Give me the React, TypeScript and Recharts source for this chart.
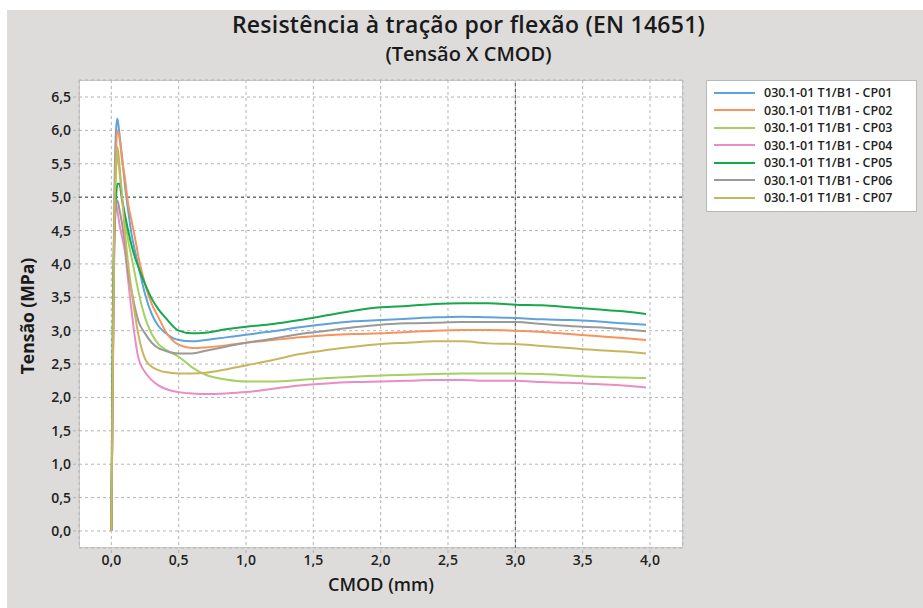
import {
  LineChart,
  Line,
  XAxis,
  YAxis,
  CartesianGrid,
  ReferenceLine,
} from "recharts";

// CMOD (mm) sample positions shared by all specimens
const cmod = [
  0, 0.01, 0.02, 0.035, 0.045, 0.06, 0.08, 0.1, 0.125, 0.15, 0.175, 0.2, 0.25,
  0.3, 0.35, 0.4, 0.5, 0.6, 0.7, 0.85, 1.0, 1.2, 1.4, 1.6, 1.8, 2.0, 2.2, 2.4,
  2.6, 2.8, 3.0, 3.2, 3.4, 3.6, 3.8, 3.97,
];

// Tensão (MPa) per specimen
const cp01 = [
  0, 2.2, 4.6, 6.0, 6.18, 5.95, 5.6, 5.2, 4.8, 4.45, 4.2, 3.98, 3.55, 3.25,
  3.07, 2.97, 2.86, 2.84, 2.86, 2.9, 2.94, 2.99, 3.05, 3.1, 3.14, 3.16, 3.18,
  3.2, 3.21, 3.2, 3.19, 3.17, 3.16, 3.14, 3.11, 3.09,
];
const cp02 = [
  0, 2.0, 4.3, 5.7, 6.0, 5.9, 5.55, 5.3, 4.9, 4.65, 4.4, 4.12, 3.7, 3.4, 3.2,
  3.0, 2.79, 2.74, 2.75, 2.78, 2.82, 2.86, 2.9, 2.93, 2.95, 2.96, 2.98, 3.0,
  3.01, 3.01, 3.0, 2.98, 2.95, 2.92, 2.89, 2.86,
];
const cp03 = [
  0, 2.0, 4.2, 5.4, 5.65, 5.4, 5.0, 4.7, 4.35, 4.1, 3.85, 3.6, 3.2, 2.95, 2.8,
  2.72, 2.61, 2.45, 2.34, 2.27, 2.24, 2.24, 2.26, 2.29, 2.31, 2.33, 2.34, 2.35,
  2.36, 2.36, 2.36, 2.35, 2.33, 2.31, 2.3, 2.29,
];
const cp04 = [
  0, 2.0, 4.0, 4.9, 4.8, 4.6, 4.4, 4.2, 3.75, 3.3, 2.9, 2.6, 2.38, 2.26, 2.18,
  2.13, 2.08, 2.06, 2.05, 2.06, 2.08, 2.13, 2.18, 2.21, 2.23, 2.24, 2.25, 2.26,
  2.26, 2.25, 2.25, 2.23, 2.22, 2.2, 2.18, 2.15,
];
const cp05 = [
  0, 3.0, 4.4, 5.0, 5.2, 5.2, 4.95, 4.75, 4.5, 4.28, 4.1, 3.96, 3.7, 3.48, 3.32,
  3.2, 3.0, 2.96, 2.97, 3.02, 3.06, 3.1, 3.16, 3.23, 3.3, 3.35, 3.37, 3.4, 3.41,
  3.41, 3.39, 3.38, 3.35, 3.32, 3.29, 3.25,
];
const cp06 = [
  0, 2.2, 4.0, 4.9, 4.95, 4.82, 4.6, 4.3, 3.85, 3.6, 3.35, 3.15, 2.96, 2.82,
  2.74, 2.7, 2.66, 2.66, 2.7, 2.76, 2.82, 2.88, 2.95, 3.0, 3.05, 3.09, 3.11,
  3.12, 3.13, 3.13, 3.13, 3.1, 3.07, 3.05, 3.02, 2.99,
];
const cp07 = [
  0, 2.2, 4.3, 5.5, 5.75, 5.5, 5.0, 4.5, 4.0, 3.6, 3.25, 2.95, 2.58, 2.46, 2.41,
  2.38, 2.36, 2.36, 2.37, 2.42, 2.48, 2.56, 2.65, 2.71, 2.76, 2.8, 2.82, 2.84,
  2.84, 2.81, 2.8, 2.77, 2.74, 2.71, 2.69, 2.66,
];

const seriesNames = [
  "030.1-01 T1/B1 - CP01",
  "030.1-01 T1/B1 - CP02",
  "030.1-01 T1/B1 - CP03",
  "030.1-01 T1/B1 - CP04",
  "030.1-01 T1/B1 - CP05",
  "030.1-01 T1/B1 - CP06",
  "030.1-01 T1/B1 - CP07",
];
const seriesValues = [cp01, cp02, cp03, cp04, cp05, cp06, cp07];
const seriesColors = [
  "#5ea3d9",
  "#f7935c",
  "#a3d163",
  "#ea8dc3",
  "#17a84b",
  "#9a9a9a",
  "#c9b55e",
];

const xTicks = [0, 0.5, 1, 1.5, 2, 2.5, 3, 3.5, 4];
const yTicks = [0, 0.5, 1, 1.5, 2, 2.5, 3, 3.5, 4, 4.5, 5, 5.5, 6, 6.5];

const data = cmod.map((x, i) => {
  const row: Record<string, number> = { cmod: x };
  seriesValues.forEach((s, k) => {
    row[`cp${k + 1}`] = s[i];
  });
  return row;
});

const font = '"Open Sans", "Noto Sans", sans-serif';
const fmt = (v: number) => v.toFixed(1).replace(".", ",");

function LegendBox() {
  return (
    <div
      style={{
        position: "absolute",
        left: 706,
        top: 80,
        width: 211,
        height: 132,
        background: "#fff",
        border: "1px solid #b8b8b8",
        boxSizing: "border-box",
        paddingTop: 3,
        fontFamily: font,
        fontWeight: 600,
        fontSize: 12.5,
        color: "#222",
      }}
    >
      {seriesNames.map((n, i) => (
        <div
          key={n}
          style={{ display: "flex", alignItems: "center", height: 17.5 }}
        >
          <span
            style={{
              display: "inline-block",
              width: 41,
              height: 2,
              marginLeft: 7,
              marginRight: 9,
              background: seriesColors[i],
            }}
          />
          <span>{n}</span>
        </div>
      ))}
    </div>
  );
}

export default function App() {
  return (
    <div
      style={{
        position: "absolute",
        left: 0,
        top: 0,
        width: 923,
        height: 608,
        background: "#fff",
        overflow: "hidden",
        fontFamily: font,
      }}
    >
      <div
        style={{
          position: "absolute",
          left: 7,
          top: 10,
          right: 0,
          bottom: 0,
          background: "#dddcda",
        }}
      />
      {/* Titles */}
      <div
        style={{
          position: "absolute",
          left: 0,
          width: 937,
          top: 10,
          lineHeight: "28px",
          textAlign: "center",
          fontSize: 23,
          letterSpacing: 0.25,
          fontWeight: 600,
          color: "#1a1a1a",
        }}
      >
        Resistência à tração por flexão (EN 14651)
      </div>
      <div
        style={{
          position: "absolute",
          left: 0,
          width: 937,
          top: 42,
          lineHeight: "24px",
          textAlign: "center",
          fontSize: 20,
          fontWeight: 600,
          color: "#1a1a1a",
        }}
      >
        (Tensão X CMOD)
      </div>
      {/* Plot area background */}
      <div
        style={{
          position: "absolute",
          left: 79,
          top: 80,
          width: 604,
          height: 468,
          background: "#fff",
          border: "1px solid #c8c8c8",
          boxSizing: "border-box",
        }}
      />
      <div style={{ position: "absolute", left: 0, top: 0 }}>
        <LineChart
          width={923}
          height={608}
          data={data}
          margin={{ top: 80, right: 240, bottom: 30, left: 39 }}
        >
          <CartesianGrid stroke="#b4b4b4" strokeDasharray="3 3" />
          <XAxis
            dataKey="cmod"
            type="number"
            domain={[-0.24, 4.245]}
            ticks={xTicks}
            allowDataOverflow
            tickFormatter={fmt}
            axisLine={false}
            tickLine={{ stroke: "#b4b4b4", strokeDasharray: "3 2" }}
            tickSize={5}
            height={30}
            tick={{ fill: "#222", fontSize: 14, fontWeight: 600, fontFamily: font }}
          />
          <YAxis
            type="number"
            domain={[-0.255, 6.755]}
            ticks={yTicks}
            allowDataOverflow
            tickFormatter={fmt}
            axisLine={false}
            tickLine={{ stroke: "#b4b4b4", strokeDasharray: "3 2" }}
            tickSize={6}
            width={40}
            tick={{ fill: "#222", fontSize: 14, fontWeight: 600, fontFamily: font }}
          />
          <ReferenceLine x={3} stroke="#444" strokeDasharray="3 3" />
          <ReferenceLine y={5} stroke="#444" strokeDasharray="3 3" />
          {seriesNames.map((n, i) => (
            <Line
              key={n}
              name={n}
              dataKey={`cp${i + 1}`}
              type="monotone"
              stroke={seriesColors[i]}
              strokeWidth={2}
              dot={false}
              isAnimationActive={false}
            />
          ))}
        </LineChart>
      </div>
      <LegendBox />
      {/* Axis titles */}
      <div
        style={{
          position: "absolute",
          left: 27,
          top: 316,
          transform: "translate(-50%, -50%) rotate(-90deg)",
          whiteSpace: "nowrap",
          fontSize: 17.5,
          fontWeight: 700,
          color: "#1a1a1a",
        }}
      >
        Tensão (MPa)
      </div>
      <div
        style={{
          position: "absolute",
          left: 381,
          top: 584,
          transform: "translate(-50%, -50%)",
          whiteSpace: "nowrap",
          fontSize: 18,
          fontWeight: 600,
          color: "#1a1a1a",
        }}
      >
        CMOD (mm)
      </div>
    </div>
  );
}
